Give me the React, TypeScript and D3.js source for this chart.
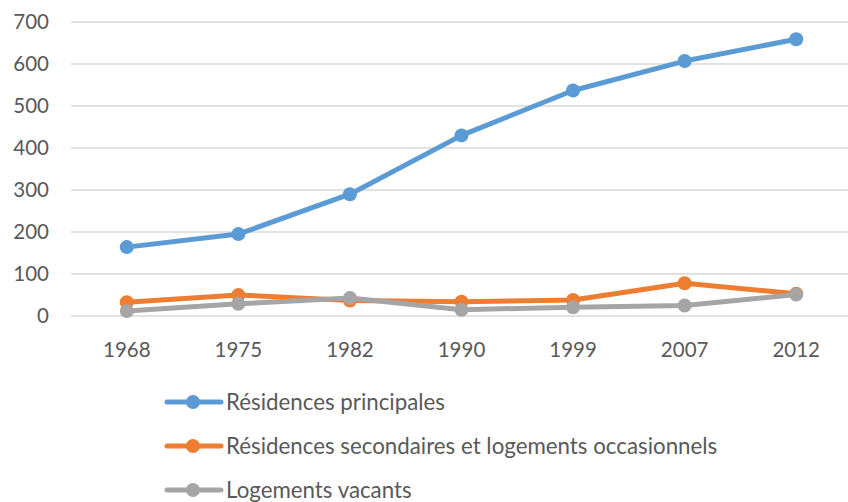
import React from "react";
import * as d3 from "d3";

const years = ["1968", "1975", "1982", "1990", "1999", "2007", "2012"];
const principales = [164, 195, 290, 430, 537, 607, 659];
const secondaires = [33, 50, 37, 34, 38, 78, 53];
const vacants = [12, 29, 43, 15, 21, 25, 51];
const seriesNames = [
  "Résidences principales",
  "Résidences secondaires et logements occasionnels",
  "Logements vacants",
];
const yTicks = [0, 100, 200, 300, 400, 500, 600, 700];

const colors = ["#5B9BD5", "#ED7D31", "#A5A5A5"];

export default function App() {
  const W = 848, H = 502;
  const x = d3.scaleBand<string>().domain(years).range([71, 852]);
  const y = d3.scaleLinear().domain([0, 700]).range([316, 22]);
  const allSeries = [principales, secondaires, vacants];
  const line = d3
    .line<number>()
    .x((_, i) => (x(years[i]) as number) + x.bandwidth() / 2)
    .y((d) => y(d));
  const font = "Lato, 'Open Sans', sans-serif";
  return (
    <svg width={W} height={H} style={{ position: "absolute", left: 0, top: 0, background: "#fff" }}>
      {yTicks.map((t) => (
        <g key={t}>
          <line x1={71} x2={848} y1={y(t)} y2={y(t)} stroke="#D9D9D9" strokeWidth={1.5} />
          <text x={49} y={y(t)} dy="0.36em" textAnchor="end" fontFamily={font} fontSize={20.5} fill="#595959">
            {t}
          </text>
        </g>
      ))}
      {years.map((yr) => (
        <text key={yr} x={(x(yr) as number) + x.bandwidth() / 2} y={350} dy="0.36em" textAnchor="middle" fontFamily={font} fontSize={20.5} fill="#595959">
          {yr}
        </text>
      ))}
      {allSeries.map((s, si) => (
        <g key={si}>
          <path d={line(s) || ""} fill="none" stroke={colors[si]} strokeWidth={5} strokeLinejoin="round" strokeLinecap="round" />
          {s.map((v, i) => (
            <circle key={i} cx={(x(years[i]) as number) + x.bandwidth() / 2} cy={y(v)} r={7} fill={colors[si]} />
          ))}
        </g>
      ))}
      {seriesNames.map((n, i) => {
        const ly = 402 + i * 44;
        return (
          <g key={n}>
            <line x1={167} x2={221} y1={ly} y2={ly} stroke={colors[i]} strokeWidth={5} strokeLinecap="round" />
            <circle cx={193} cy={ly} r={7} fill={colors[i]} />
            <text x={226} y={ly} dy="0.36em" fontFamily={font} fontSize={22.3} fill="#595959">
              {n}
            </text>
          </g>
        );
      })}
    </svg>
  );
}
